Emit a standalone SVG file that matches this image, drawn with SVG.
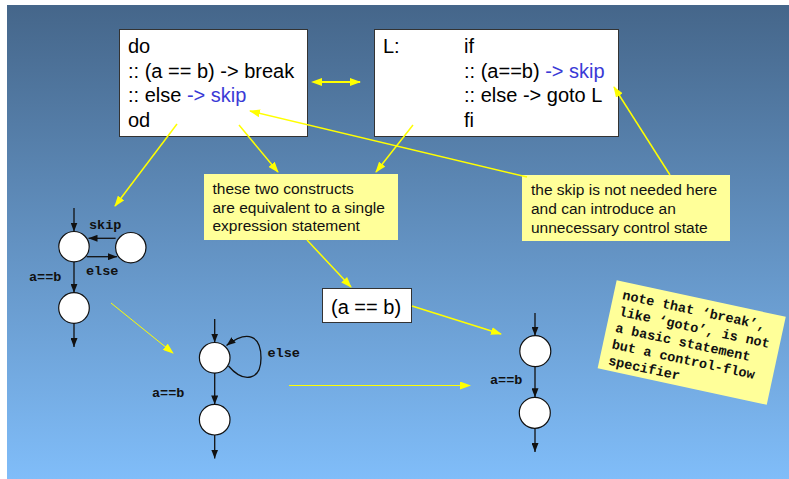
<svg xmlns="http://www.w3.org/2000/svg" width="789" height="479" viewBox="0 0 789 479">
<defs>
<linearGradient id="bg" x1="0" y1="5" x2="0" y2="479" gradientUnits="userSpaceOnUse">
<stop offset="0" stop-color="#45668a"/>
<stop offset="1" stop-color="#80bdf9"/>
</linearGradient>
<marker id="ya" markerWidth="11" markerHeight="8" refX="10" refY="4" orient="auto" markerUnits="userSpaceOnUse">
<path d="M0,0 L11,4 L0,8 z" fill="#ffff00"/>
</marker>
<marker id="yas" markerWidth="11" markerHeight="8" refX="1" refY="4" orient="auto-start-reverse" markerUnits="userSpaceOnUse">
<path d="M0,0 L11,4 L0,8 z" fill="#ffff00"/>
</marker>
<marker id="ba" markerWidth="9" markerHeight="7" refX="9" refY="3.5" orient="auto" markerUnits="userSpaceOnUse">
<path d="M0,0 L9,3.5 L0,7 z" fill="#111"/>
</marker>
</defs>
<style>
.box{fill:#fff;stroke:#333;stroke-width:1}
.note{fill:#ffff99}
.code{font-family:"Liberation Sans",Arial,sans-serif;font-size:20px;fill:#000}
.blue{fill:#3a3ad6}
.nt{font-family:"Liberation Sans",Arial,sans-serif;font-size:15.5px;fill:#111}
.mono{font-family:"Liberation Mono","Courier New",monospace;font-size:13.5px;font-weight:bold;fill:#111}
.st{fill:#fff;stroke:#111;stroke-width:1.2}
.ed{stroke:#111;stroke-width:1.3;fill:none;marker-end:url(#ba)}
.yl{stroke:#ffff00;stroke-width:1.5;fill:none;marker-end:url(#ya)}
.ylt{stroke:#ffff00;stroke-width:1;fill:none;marker-end:url(#ya)}
</style>
<rect x="7" y="5" width="782" height="474" fill="url(#bg)"/>

<g id="box-do">
<rect class="box" x="119.5" y="29.5" width="188" height="107"/>
<text class="code" x="128" y="53">do</text>
<text class="code" x="128" y="77.5">:: (a == b) -&gt; break</text>
<text class="code" x="128" y="102">:: else <tspan class="blue">-&gt; skip</tspan></text>
<text class="code" x="128" y="126.5">od</text>
</g>

<g id="box-if">
<rect class="box" x="374.5" y="29.5" width="244" height="107"/>
<text class="code" x="383" y="53">L:</text>
<text class="code" x="464" y="53">if</text>
<text class="code" x="464" y="77.5">:: (a==b) <tspan class="blue">-&gt; skip</tspan></text>
<text class="code" x="464" y="102">:: else -&gt; goto L</text>
<text class="code" x="464" y="126.5">fi</text>
</g>

<g id="note-equiv">
<rect class="note" x="204" y="174" width="194" height="66"/>
<text class="nt" x="212.5" y="193.5">these two constructs</text>
<text class="nt" x="212.5" y="212.5">are equivalent to a single</text>
<text class="nt" x="212.5" y="231">expression statement</text>
</g>

<g id="note-skip">
<rect class="note" x="522" y="175" width="208" height="66"/>
<text class="nt" x="531" y="195">the skip is not needed here</text>
<text class="nt" x="531" y="214">and can introduce an</text>
<text class="nt" x="531" y="233">unnecessary control state</text>
</g>

<g id="box-expr">
<rect class="box" x="322.5" y="288.5" width="89" height="34"/>
<text class="code" x="331" y="313.5">(a == b)</text>
</g>

<g id="note-break" transform="translate(691.7,342.5) rotate(12.2)">
<rect class="note" x="-86.5" y="-45" width="173" height="90" fill="#ffff9c"/>
<text class="mono" x="-77.5" y="-27.7">note that ‘break’,</text>
<text class="mono" x="-77.5" y="-10.9">like ‘goto’, is not</text>
<text class="mono" x="-77.5" y="5.8">a basic statement</text>
<text class="mono" x="-77.5" y="22.6">but a control-flow</text>
<text class="mono" x="-77.5" y="39.3">specifier</text>
</g>

<g id="fsm1">
<circle class="st" cx="74" cy="246.7" r="15.2"/>
<circle class="st" cx="130.8" cy="247.7" r="15.2"/>
<circle class="st" cx="74" cy="308" r="15.3"/>
<text class="mono" x="89" y="228.5">skip</text>
<text class="mono" x="86" y="275">else</text>
<text class="mono" x="29" y="280.5">a==b</text>
</g>

<g id="fsm2">
<circle class="st" cx="214.7" cy="357.8" r="15.3"/>
<circle class="st" cx="214.7" cy="419.7" r="15.3"/>
<text class="mono" x="267.5" y="357">else</text>
<text class="mono" x="152" y="397">a==b</text>
</g>

<g id="fsm3">
<circle class="st" cx="535.3" cy="351.2" r="15.5"/>
<circle class="st" cx="534.8" cy="412.8" r="15.5"/>
<text class="mono" x="490" y="384">a==b</text>
</g>

<g id="connectors">
<line class="ed" x1="74" y1="208" x2="74" y2="231.5"/>
<line class="ed" x1="115.6" y1="238.3" x2="88.5" y2="238.3"/>
<line class="ed" x1="86.7" y1="256.7" x2="117" y2="256.7"/>
<line class="ed" x1="74" y1="261.9" x2="74" y2="292.7"/>
<line class="ed" x1="74" y1="323.3" x2="74" y2="347"/>

<line class="ed" x1="214.7" y1="319" x2="214.7" y2="342.5"/>
<path class="ed" d="M228.5,366 C244,384 261,380 261,358 C261,336 248,329 226.5,345.5"/>
<line class="ed" x1="214.7" y1="373.1" x2="214.7" y2="404.4"/>
<line class="ed" x1="214.7" y1="435" x2="214.7" y2="458.5"/>

<line class="ed" x1="535" y1="313" x2="535" y2="335.7"/>
<line class="ed" x1="535" y1="366.7" x2="535" y2="397.3"/>
<line class="ed" x1="535" y1="428.3" x2="535" y2="452"/>

<line x1="321" y1="82" x2="360" y2="82" stroke="#ffff00" stroke-width="2" marker-start="url(#yas)" marker-end="url(#ya)"/>
<line class="yl" x1="177" y1="124" x2="115" y2="206"/>
<line class="yl" x1="239" y1="125" x2="278" y2="172"/>
<line class="yl" x1="413" y1="125" x2="376" y2="172"/>
<line class="yl" x1="527" y1="177" x2="250" y2="111"/>
<line class="yl" x1="670" y1="175" x2="614" y2="87"/>
<line class="yl" x1="307" y1="240" x2="351" y2="287"/>
<line class="yl" x1="412" y1="306" x2="501" y2="334"/>
<line class="ylt" x1="111" y1="303" x2="173" y2="353"/>
<line class="ylt" x1="289" y1="385.5" x2="470" y2="385.5"/>
</g>
</svg>
